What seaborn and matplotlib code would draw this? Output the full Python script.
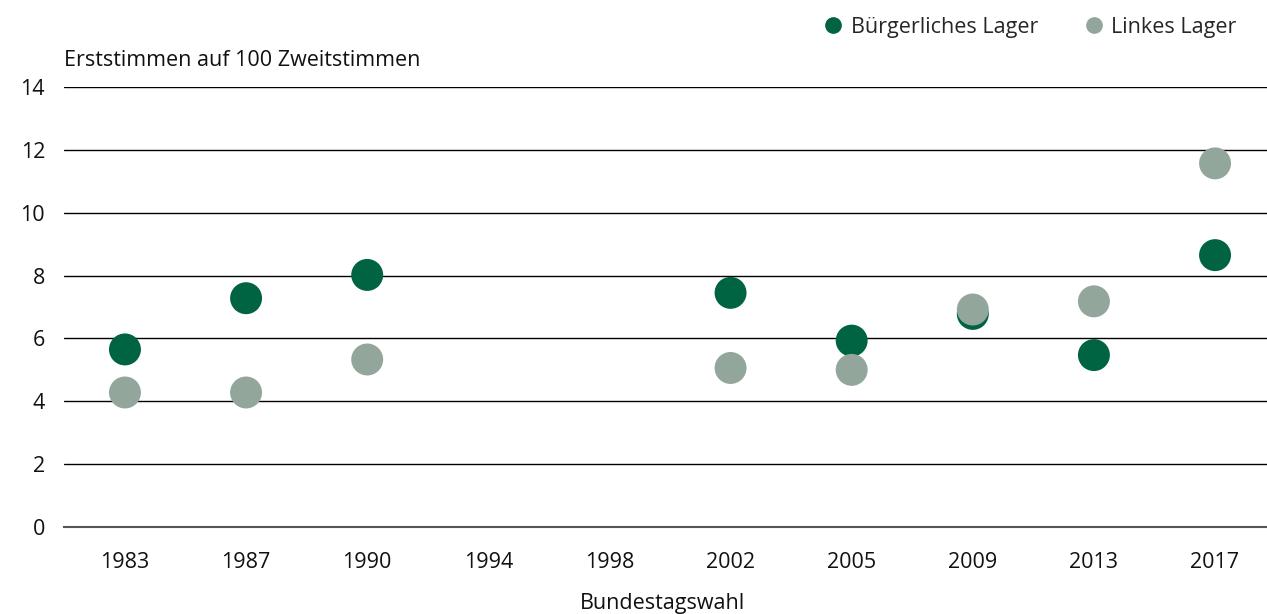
import numpy as np
import pandas as pd
import seaborn as sns
import matplotlib.pyplot as plt
from matplotlib.lines import Line2D

# werte
jahre = ["1983", "1987", "1990", "1994", "1998", "2002", "2005", "2009", "2013", "2017"]
buergerlich = [5.65, 7.28, 8.02, np.nan, np.nan, 7.45, 5.93, 6.78, 5.47, 8.65]
links = [4.28, 4.28, 5.33, np.nan, np.nan, 5.06, 5.0, 6.92, 7.18, 11.57]

farbe_gruen = "#006341"
farbe_grau = "#93A69C"

df = pd.DataFrame({
    "jahr": jahre * 2,
    "wert": buergerlich + links,
    "lager": ["Bürgerliches Lager"] * len(jahre) + ["Linkes Lager"] * len(jahre),
})
df["jahr"] = pd.Categorical(df["jahr"], categories=jahre, ordered=True)

sns.set_style("white")
plt.rcParams["font.family"] = ["Open Sans", "DejaVu Sans"]
fs = 15.5

fig = plt.figure(figsize=(12.67, 6.14), dpi=100)
ax = fig.add_axes([64.4 / 1267, 87 / 614, 1211.2 / 1267, 440 / 614])

sns.stripplot(
    data=df, x="jahr", y="wert", hue="lager", order=jahre,
    palette={"Bürgerliches Lager": farbe_gruen, "Linkes Lager": farbe_grau},
    jitter=False, size=23, linewidth=0, ax=ax, legend=False, zorder=3,
)

ax.set_ylim(0, 14)
ax.set_xlim(-0.5, len(jahre) - 0.5)
ax.set_yticks(range(0, 15, 2))
ax.grid(axis="y", color="black", linewidth=1.0, zorder=0)
ax.set_axisbelow(True)

for s in ["top", "right", "left"]:
    ax.spines[s].set_visible(False)
ax.spines["bottom"].set_color("#555555")
ax.spines["bottom"].set_linewidth(1.5)

ax.set_xticks(range(len(jahre)))
ax.set_xticklabels(jahre)
ax.set_xticks(np.arange(-0.5, len(jahre), 1), minor=True)
ax.tick_params(axis="x", which="major", length=0, pad=18, labelsize=fs, colors="#111111")
ax.tick_params(axis="x", which="minor", length=8, width=1.2, color="#555555", direction="out")
ax.tick_params(axis="y", length=0, pad=14, labelsize=fs, colors="#111111")
ax.set_xlabel("")
ax.set_ylabel("")

fig.text(663 / 1267, 1 - 604 / 614, "Bundestagswahl",
         fontsize=fs, va="center", ha="center", color="#111111")
fig.text(64 / 1267, 1 - 61 / 614, "Erststimmen auf 100 Zweitstimmen",
         fontsize=fs, va="center", ha="left", color="#111111")

handles = [
    Line2D([], [], marker="o", linestyle="", markersize=11, color=farbe_gruen, label="Bürgerliches Lager"),
    Line2D([], [], marker="o", linestyle="", markersize=11, color=farbe_grau, label="Linkes Lager"),
]
fig.legend(handles=handles, loc="center right", bbox_to_anchor=(1256 / 1267, 1 - 27 / 614),
           ncol=2, frameon=False, fontsize=fs, handletextpad=0.2, columnspacing=2.0,
           handlelength=1.2)

fig.savefig("out.png", dpi=100)
